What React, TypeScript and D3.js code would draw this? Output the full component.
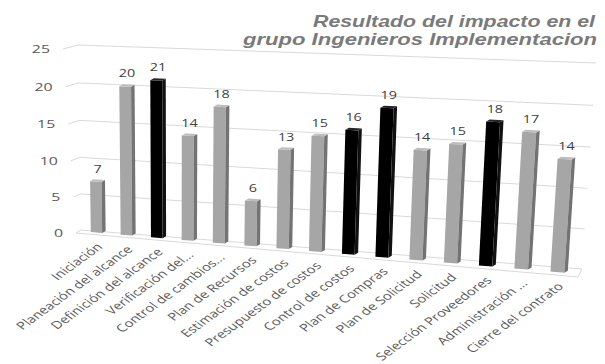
import React from "react";
import * as d3 from "d3";

const categories = [
  "Iniciación",
  "Planeación del alcance",
  "Definición del alcance",
  "Verificación del...",
  "Control de cambios...",
  "Plan de Recursos",
  "Estimación de costos",
  "Presupuesto de costos",
  "Control de costos",
  "Plan de Compras",
  "Plan de Solicitud",
  "Solicitud",
  "Selección Proveedores",
  "Administración ...",
  "Cierre del contrato",
];
const values = [7, 20, 21, 14, 18, 6, 13, 15, 16, 19, 14, 15, 18, 17, 14];
const highlighted = [
  "Definición del alcance",
  "Control de costos",
  "Plan de Compras",
  "Selección Proveedores",
];
const yTicks = [0, 5, 10, 15, 20, 25];
const titleLines = ["Resultado del impacto en el", "grupo Ingenieros Implementacion"];

type Pt = [number, number];

// Projective mapping of the unit square (u, v) onto a quadrilateral on screen.
function homography(src: Pt[], dst: Pt[]) {
  const A: number[][] = [];
  const b: number[] = [];
  for (let i = 0; i < 4; i++) {
    const [u, v] = src[i];
    const [x, y] = dst[i];
    A.push([u, v, 1, 0, 0, 0, -u * x, -v * x]);
    b.push(x);
    A.push([0, 0, 0, u, v, 1, -u * y, -v * y]);
    b.push(y);
  }
  const n = 8;
  for (let c = 0; c < n; c++) {
    let p = c;
    for (let r = c + 1; r < n; r++) if (Math.abs(A[r][c]) > Math.abs(A[p][c])) p = r;
    [A[c], A[p]] = [A[p], A[c]];
    [b[c], b[p]] = [b[p], b[c]];
    for (let r = 0; r < n; r++) {
      if (r === c) continue;
      const f = A[r][c] / A[c][c];
      for (let k = c; k < n; k++) A[r][k] -= f * A[c][k];
      b[r] -= f * b[c];
    }
  }
  const h = b.map((bv, i) => bv / A[i][i]);
  return (u: number, v: number): Pt => {
    const w = h[6] * u + h[7] * v + 1;
    return [(h[0] * u + h[1] * v + h[2]) / w, (h[3] * u + h[4] * v + h[5]) / w];
  };
}

// Back wall of the 3-D plot area
const wall = homography(
  [
    [0, 0],
    [1, 0],
    [0, 1],
    [1, 1],
  ],
  [
    [81, 230],
    [582, 269],
    [78, 45],
    [596, 63],
  ]
);

const lerp = (a: number, b: number, t: number) => a + (b - a) * t;
const add = (p: Pt, d: Pt): Pt => [p[0] + d[0], p[1] + d[1]];

// Side wall depth (front edge relative to back edge) along the value axis
const sideDepth = (vn: number): Pt => [lerp(-5, -15, vn), lerp(3, 4, vn)];
// Floor depth along the category axis
const floorDepth = (u: number): Pt => [lerp(-5, -4, u), lerp(3, 8, u)];
// Bar front plane offset and bar thickness
const barFront = (u: number): Pt => [lerp(-2, -3, u), lerp(1, 5, u)];
const barDepth: Pt = [3.5, -2];

const x = d3.scaleBand<string>().domain(categories).range([0, 1]).paddingInner(0.62).paddingOuter(0.4);
const y = d3.scaleLinear().domain([0, 25]).range([0, 1]);

const poly = (pts: Pt[]) => "M" + pts.map((p) => p[0].toFixed(2) + "," + p[1].toFixed(2)).join("L") + "Z";
const line = (a: Pt, b: Pt) => "M" + a[0].toFixed(2) + "," + a[1].toFixed(2) + "L" + b[0].toFixed(2) + "," + b[1].toFixed(2);

const textFont = "'Open Sans', 'DejaVu Sans', sans-serif";
const stretch = 1.38;

export default function App() {
  const gridColor = "#d9d9d9";

  const gridPaths: string[] = [];
  yTicks.forEach((t) => {
    const vn = y(t);
    const backL = wall(0, vn);
    const backR = wall(1, vn);
    gridPaths.push(line(backL, backR));
    gridPaths.push(line(add(backL, sideDepth(vn)), backL));
  });
  const floorFrontL = add(wall(0, 0), floorDepth(0));
  const floorFrontR = add(wall(1, 0), floorDepth(1));
  gridPaths.push(line(floorFrontL, floorFrontR));
  gridPaths.push(line(wall(1, 0), floorFrontR));

  const bars = categories.map((c, i) => {
    const u0 = x(c)!;
    const u1 = u0 + x.bandwidth();
    const uc = (u0 + u1) / 2;
    const vn = y(values[i]);
    const off = barFront(uc);
    const fbl = add(wall(u0, 0), off);
    const fbr = add(wall(u1, 0), off);
    const ftr = add(wall(u1, vn), off);
    const ftl = add(wall(u0, vn), off);
    const dark = highlighted.includes(c);
    const front = poly([fbl, fbr, ftr, ftl]);
    const side = poly([fbr, add(fbr, barDepth), add(ftr, barDepth), ftr]);
    const top = poly([ftl, ftr, add(ftr, barDepth), add(ftl, barDepth)]);
    const topCenter: Pt = [(ftl[0] + ftr[0]) / 2 + barDepth[0] / 2, (ftl[1] + ftr[1]) / 2 + barDepth[1] / 2];
    const baseCenter: Pt = [(fbl[0] + fbr[0]) / 2, (fbl[1] + fbr[1]) / 2];
    return { c, i, dark, front, side, top, topCenter, baseCenter };
  });

  return (
    <svg
      width={605}
      height={364}
      viewBox="0 0 605 364"
      style={{ position: "absolute", left: 0, top: 0, background: "#ffffff" }}
    >
      <rect x={0} y={0} width={605} height={364} fill="#ffffff" />
      <g stroke={gridColor} strokeWidth={1} fill="none">
        {gridPaths.map((d, i) => (
          <path key={i} d={d} />
        ))}
      </g>

      {yTicks.map((t) => {
        const p = add(wall(0, y(t)), sideDepth(y(t)));
        return (
          <text
            key={t}
            transform={`translate(${p[0] - 13},${p[1] + 4}) scale(${stretch},1)`}
            textAnchor="end"
            fontFamily={textFont}
            fontSize={11.5}
            fill="#595959"
          >
            {t}
          </text>
        );
      })}

      {bars.map((b) => (
        <g key={b.c}>
          <path d={b.front} fill={b.dark ? "#000000" : "#a6a6a6"} />
          <path d={b.side} fill={b.dark ? "#111111" : "#737373"} />
          <path d={b.top} fill={b.dark ? "#262626" : "#bdbdbd"} />
        </g>
      ))}

      {bars.map((b) => (
        <text
          key={"v" + b.c}
          transform={`translate(${b.topCenter[0]},${b.topCenter[1] - 8}) scale(1.25,1)`}
          textAnchor="middle"
          fontFamily={textFont}
          fontSize={11.5}
          fill="#404040"
        >
          {values[b.i]}
        </text>
      ))}

      {bars.map((b) => (
        <text
          key={"c" + b.c}
          transform={`translate(${b.baseCenter[0] + 7},${b.baseCenter[1] + 15}) scale(${stretch},1) rotate(-45)`}
          textAnchor="end"
          fontFamily={textFont}
          fontSize={10.8}
          fill="#595959"
        >
          {b.c}
        </text>
      ))}

      <g fontFamily="'Liberation Sans', Arial, sans-serif" fontWeight="bold" fontStyle="italic" fontSize={17} fill="#7a7a7a">
        <text x={313} y={27} textLength={282} lengthAdjust="spacingAndGlyphs">
          {titleLines[0]}
        </text>
        <text x={243} y={45} textLength={354} lengthAdjust="spacingAndGlyphs">
          {titleLines[1]}
        </text>
      </g>
    </svg>
  );
}
